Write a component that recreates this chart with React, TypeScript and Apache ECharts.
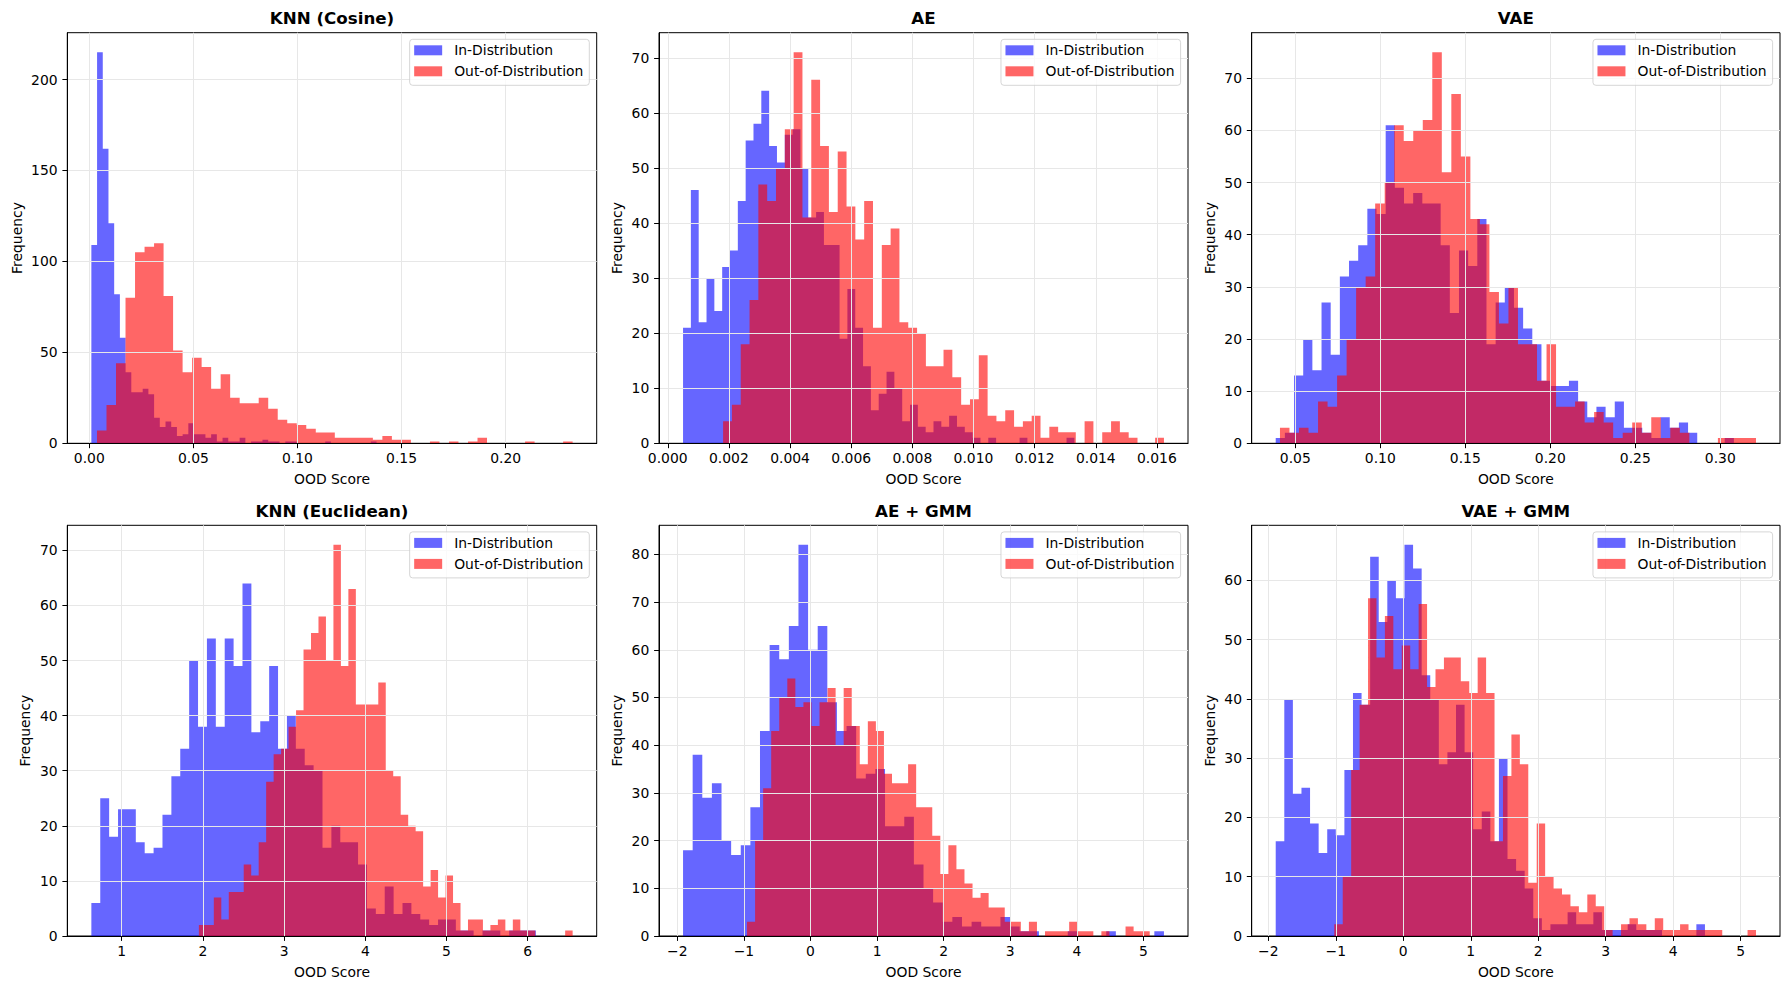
import React, { useEffect, useRef } from "react";
import * as echarts from "echarts";

// ---------------- Data (50 bins per histogram) ----------------
// KNN (Cosine)
const knnCosIdRange = [0.001, 0.138];
const knnCosId = [109, 215, 162, 121, 82, 58, 39, 28, 28, 30, 27, 14, 9, 12, 9, 4, 5, 11, 5, 5, 3, 5, 1, 3, 1, 1, 3, 0, 1, 1, 2, 1, 1, 0, 1, 1, 0, 0, 0, 0, 0, 1, 0, 0, 0, 0, 0, 0, 0, 1];
const knnCosOodRange = [0.0037, 0.2322];
const knnCosOod = [7, 21, 44, 80, 105, 108, 110, 81, 51, 39, 47, 42, 30, 38, 25, 22, 22, 25, 19, 13, 11, 10, 8, 6, 6, 3, 3, 3, 3, 2, 4, 2, 2, 0, 0, 1, 0, 1, 0, 1, 3, 0, 0, 0, 0, 1, 0, 0, 0, 1];
const knnCosXTicks = [0, 0.05, 0.1, 0.15, 0.2];
const knnCosYTicks = [0, 50, 100, 150, 200];

// AE
const aeIdRange = [0.0005, 0.0133];
const aeId = [21, 46, 22, 30, 24, 32, 35, 44, 55, 58, 64, 54, 51, 56, 57, 50, 41, 42, 36, 36, 19, 28, 21, 14, 6, 9, 13, 10, 4, 7, 3, 2, 4, 3, 5, 3, 2, 1, 0, 1, 0, 0, 0, 1, 0, 0, 0, 0, 0, 1];
const aeOodRange = [0.00181, 0.01623];
const aeOod = [4, 7, 18, 26, 47, 44, 50, 57, 71, 41, 66, 54, 42, 53, 43, 37, 44, 21, 36, 39, 22, 21, 20, 14, 14, 17, 12, 7, 8, 16, 5, 4, 6, 3, 4, 5, 1, 3, 2, 2, 0, 4, 0, 2, 4, 2, 1, 0, 0, 1];
const aeXTicks = [0, 0.002, 0.004, 0.006, 0.008, 0.01, 0.012, 0.014, 0.016];
const aeYTicks = [0, 10, 20, 30, 40, 50, 60, 70];

// VAE
const vaeIdRange = [0.0385, 0.308];
const vaeId = [1, 2, 13, 20, 14, 27, 17, 32, 35, 38, 45, 44, 61, 49, 46, 48, 46, 46, 38, 25, 37, 34, 43, 19, 27, 30, 26, 22, 19, 12, 11, 11, 12, 8, 5, 7, 5, 8, 3, 3, 2, 1, 5, 3, 4, 2, 0, 0, 0, 1];
const vaeOodRange = [0.041, 0.321];
const vaeOod = [3, 2, 3, 2, 8, 7, 13, 20, 30, 32, 46, 50, 61, 58, 60, 62, 75, 52, 67, 55, 43, 42, 29, 23, 30, 19, 19, 12, 19, 7, 7, 8, 4, 6, 4, 1, 2, 4, 2, 5, 1, 3, 2, 0, 0, 0, 1, 1, 1, 1];
const vaeXTicks = [0.05, 0.1, 0.15, 0.2, 0.25, 0.3];
const vaeYTicks = [0, 10, 20, 30, 40, 50, 60, 70];

// KNN (Euclidean)
const knnEucIdRange = [0.626, 6.1];
const knnEucId = [6, 25, 18, 23, 23, 17, 15, 16, 22, 29, 34, 50, 38, 54, 38, 54, 49, 64, 37, 39, 49, 34, 40, 34, 31, 30, 16, 20, 17, 17, 13, 5, 4, 9, 4, 6, 4, 3, 2, 3, 3, 1, 1, 0, 1, 1, 0, 1, 1, 1];
const knnEucOodRange = [1.95, 6.553];
const knnEucOod = [2, 2, 7, 3, 8, 8, 13, 11, 17, 28, 33, 34, 38, 41, 52, 55, 58, 50, 71, 49, 63, 42, 42, 42, 46, 30, 29, 22, 20, 19, 9, 12, 7, 11, 6, 1, 3, 3, 1, 2, 3, 1, 3, 1, 1, 0, 0, 0, 0, 1];
const knnEucXTicks = [1, 2, 3, 4, 5, 6];
const knnEucYTicks = [0, 10, 20, 30, 40, 50, 60, 70];

// AE + GMM
const aeGmmIdRange = [-1.914, 5.308];
const aeGmmId = [18, 38, 29, 32, 20, 17, 19, 27, 43, 61, 58, 65, 82, 60, 65, 49, 43, 44, 33, 34, 35, 23, 23, 25, 15, 10, 7, 3, 4, 2, 3, 2, 2, 4, 2, 1, 1, 0, 0, 0, 1, 0, 0, 0, 1, 0, 0, 0, 0, 1];
const aeGmmOodRange = [-0.953, 5.094];
const aeGmmOod = [3, 20, 31, 43, 50, 54, 48, 49, 44, 49, 52, 40, 52, 44, 36, 45, 43, 34, 32, 32, 36, 27, 27, 21, 13, 19, 14, 11, 8, 9, 6, 6, 3, 3, 1, 3, 0, 1, 1, 1, 3, 1, 1, 0, 1, 0, 0, 2, 1, 1];
const aeGmmXTicks = [-2, -1, 0, 1, 2, 3, 4, 5];
const aeGmmYTicks = [0, 10, 20, 30, 40, 50, 60, 70, 80];

// VAE + GMM
const vaeGmmIdRange = [-1.89, 4.47];
const vaeGmmId = [16, 40, 24, 25, 19, 14, 18, 17, 28, 41, 39, 64, 53, 60, 57, 66, 62, 44, 40, 29, 31, 39, 31, 18, 21, 16, 30, 13, 11, 8, 3, 1, 2, 2, 4, 2, 2, 4, 1, 1, 1, 2, 1, 1, 1, 0, 0, 0, 0, 2];
const vaeGmmOodRange = [-1.022, 5.226];
const vaeGmmOod = [2, 10, 28, 39, 57, 47, 54, 45, 49, 45, 56, 42, 45, 47, 47, 43, 41, 47, 41, 16, 27, 34, 29, 9, 19, 10, 8, 7, 5, 4, 7, 5, 1, 0, 2, 3, 2, 1, 3, 1, 1, 2, 1, 1, 1, 1, 0, 0, 0, 1];
const vaeGmmXTicks = [-2, -1, 0, 1, 2, 3, 4, 5];
const vaeGmmYTicks = [0, 10, 20, 30, 40, 50, 60];

const titles = ["KNN (Cosine)", "AE", "VAE", "KNN (Euclidean)", "AE + GMM", "VAE + GMM"];
const seriesNames = ["In-Distribution", "Out-of-Distribution"];

// ---------------- Layout ----------------
const W = 1789;
const H = 990;
const colLeft = [67.3, 659, 1251.7];
const colRight = [596.7, 1188, 1780];
const rowTop = [32.7, 525.3];
const rowBottom = [443.3, 936];
const FONT = "DejaVu Sans";
const FS = 13.9;
const BLUE = "rgba(0,0,255,0.6)";
const RED = "rgba(255,0,0,0.6)";

type Panel = {
  title: string;
  id: number[];
  idRange: number[];
  ood: number[];
  oodRange: number[];
  xTicks: number[];
  yTicks: number[];
  dec: number;
};

const panels: Panel[] = [
  { title: titles[0], id: knnCosId, idRange: knnCosIdRange, ood: knnCosOod, oodRange: knnCosOodRange, xTicks: knnCosXTicks, yTicks: knnCosYTicks, dec: 2 },
  { title: titles[1], id: aeId, idRange: aeIdRange, ood: aeOod, oodRange: aeOodRange, xTicks: aeXTicks, yTicks: aeYTicks, dec: 3 },
  { title: titles[2], id: vaeId, idRange: vaeIdRange, ood: vaeOod, oodRange: vaeOodRange, xTicks: vaeXTicks, yTicks: vaeYTicks, dec: 2 },
  { title: titles[3], id: knnEucId, idRange: knnEucIdRange, ood: knnEucOod, oodRange: knnEucOodRange, xTicks: knnEucXTicks, yTicks: knnEucYTicks, dec: 0 },
  { title: titles[4], id: aeGmmId, idRange: aeGmmIdRange, ood: aeGmmOod, oodRange: aeGmmOodRange, xTicks: aeGmmXTicks, yTicks: aeGmmYTicks, dec: 0 },
  { title: titles[5], id: vaeGmmId, idRange: vaeGmmIdRange, ood: vaeGmmOod, oodRange: vaeGmmOodRange, xTicks: vaeGmmXTicks, yTicks: vaeGmmYTicks, dec: 0 },
];

function binsOf(range: number[], counts: number[]) {
  const lo = range[0];
  const w = (range[1] - range[0]) / counts.length;
  return counts.map((c, i) => [lo + i * w, lo + (i + 1) * w, c]);
}

function fmt(v: number, dec: number) {
  return v.toFixed(dec).replace("-", "\u2212");
}

function histSeries(name: string, color: string, data: number[][], idx: number, z2: number) {
  return {
    type: "custom",
    name,
    xAxisIndex: idx,
    yAxisIndex: idx,
    silent: true,
    z: 2,
    itemStyle: { color },
    encode: { x: [0, 1], y: 2 },
    data,
    renderItem: (params: any, api: any) => {
      if (params.dataIndexInside !== 0) return null;
      const pts: number[][] = [];
      pts.push(api.coord([data[0][0], 0]));
      for (let j = 0; j < data.length; j++) {
        pts.push(api.coord([data[j][0], data[j][2]]));
        pts.push(api.coord([data[j][1], data[j][2]]));
      }
      pts.push(api.coord([data[data.length - 1][1], 0]));
      return { type: "polygon", z2, shape: { points: pts }, style: { fill: color, stroke: null } };
    },
  };
}

function buildOption() {
  const grid: any[] = [];
  const xAxis: any[] = [];
  const yAxis: any[] = [];
  const series: any[] = [];
  const legend: any[] = [];
  const graphic: any[] = [];

  panels.forEach((p, i) => {
    const r = Math.floor(i / 3);
    const c = i % 3;
    const left = colLeft[c];
    const top = rowTop[r];
    const width = colRight[c] - colLeft[c];
    const height = rowBottom[r] - rowTop[r];
    grid.push({ left, top, width, height, show: true, borderColor: "#000", borderWidth: 1, backgroundColor: "transparent", outerBoundsMode: "none" });

    const lo = Math.min(p.idRange[0], p.oodRange[0]);
    const hi = Math.max(p.idRange[1], p.oodRange[1]);
    const pad = (hi - lo) * 0.05;
    const maxCount = Math.max(...p.id, ...p.ood);
    const threeDigits = maxCount >= 100;

    xAxis.push({
      type: "value",
      gridIndex: i,
      min: lo - pad,
      max: hi + pad,
      z: 3,
      name: "OOD Score",
      nameLocation: "middle",
      nameGap: 29,
      nameTextStyle: { fontSize: FS, color: "#000", fontFamily: FONT },
      axisLine: { show: true, onZero: false, lineStyle: { color: "#000", width: 1 } },
      axisTick: { show: true, inside: false, length: 4.9, lineStyle: { color: "#000", width: 1 }, customValues: p.xTicks },
      axisLabel: { show: true, customValues: p.xTicks, margin: 7.5, fontSize: FS, color: "#000", fontFamily: FONT, formatter: (v: number) => fmt(v, p.dec) },
      splitLine: { show: true, lineStyle: { color: "#e7e7e7", width: 1 } },
    });
    yAxis.push({
      type: "value",
      gridIndex: i,
      min: 0,
      max: maxCount * 1.05,
      z: 3,
      name: "Frequency",
      nameLocation: "middle",
      nameRotate: 90,
      nameGap: threeDigits ? 43 : 35,
      nameTextStyle: { fontSize: FS, color: "#000", fontFamily: FONT },
      axisLine: { show: true, onZero: false, lineStyle: { color: "#000", width: 1 } },
      axisTick: { show: true, inside: false, length: 4.9, lineStyle: { color: "#000", width: 1 }, customValues: p.yTicks },
      axisLabel: { show: true, customValues: p.yTicks, margin: 9.7, fontSize: FS, color: "#000", fontFamily: FONT, formatter: (v: number) => String(Math.round(v)) },
      splitLine: { show: true, lineStyle: { color: "#e7e7e7", width: 1 } },
    });

    series.push(histSeries(seriesNames[0], BLUE, binsOf(p.idRange, p.id), i, 0));
    series.push(histSeries(seriesNames[1], RED, binsOf(p.oodRange, p.ood), i, 1));

    legend.push({
      show: true,
      orient: "vertical",
      selectedMode: false,
      right: W - (colRight[c] - 7.4),
      top: top + 6.6,
      data: [
        { name: seriesNames[0], icon: "rect" },
        { name: seriesNames[1], icon: "rect" },
      ],
      itemWidth: 28,
      itemHeight: 10,
      itemGap: 5,
      padding: [3, 6, 6, 4.5],
      backgroundColor: "rgba(255,255,255,0.8)",
      borderColor: "rgba(204,204,204,0.8)",
      borderWidth: 1,
      borderRadius: 3,
      textStyle: { fontSize: FS, color: "#000", fontFamily: FONT, lineHeight: 16, padding: [0, 0, 0, 7] },
    });

    graphic.push({
      type: "text",
      x: (colLeft[c] + colRight[c]) / 2,
      y: top - 14.4,
      style: {
        text: p.title,
        fontSize: 16.7,
        fontWeight: "bold",
        fontFamily: FONT,
        fill: "#000",
        align: "center",
        verticalAlign: "middle",
        textAlign: "center",
        textVerticalAlign: "middle",
      },
    });
  });

  return {
    animation: false,
    backgroundColor: "#ffffff",
    textStyle: { fontFamily: FONT },
    grid,
    xAxis,
    yAxis,
    series,
    legend,
    graphic,
  };
}

export default function App() {
  const ref = useRef<HTMLDivElement>(null);
  useEffect(() => {
    if (!ref.current) return;
    const chart = echarts.init(ref.current, null, { renderer: "svg" });
    chart.setOption(buildOption() as any);
    return () => chart.dispose();
  }, []);
  return <div ref={ref} style={{ position: "absolute", left: 0, top: 0, width: W, height: H, background: "#fff" }} />;
}
